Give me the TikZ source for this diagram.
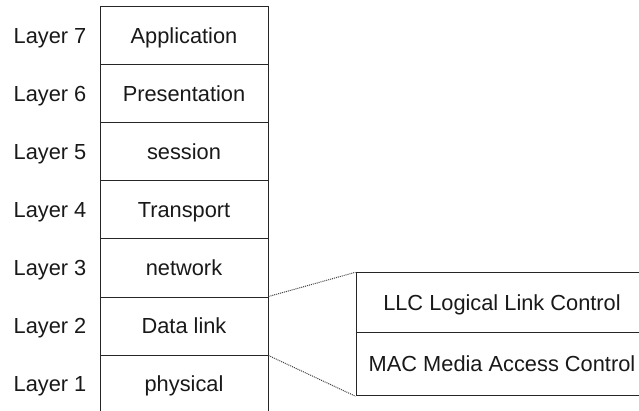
\documentclass[tikz,border=0pt]{standalone}
\usepackage{fontspec}
\setmainfont{Liberation Sans}
\begin{document}
\begin{tikzpicture}[x=1pt,y=1pt,
  every node/.style={font=\fontsize{21.8}{26}\selectfont, text=black!90, text height=15.6pt, text depth=0pt},
  layerbox/.style={draw=black!85, line width=1pt, minimum width=168pt, minimum height=58pt, inner sep=0pt},
  subbox/.style={draw=black!85, line width=1pt, minimum width=292pt, minimum height=61.6pt, inner sep=0pt},
  conn/.style={densely dotted, line width=1pt, draw=black!75}]
\useasboundingbox (0,0) rectangle (639,-411);
\clip (0,0) rectangle (639,-411);
\fill[white] (0,0) rectangle (639,-411);
\node[layerbox] (l7) at (184,-36) {Application};
\node[layerbox] (l6) at (184,-94) {Presentation};
\node[layerbox] (l5) at (184,-152) {session};
\node[layerbox] (l4) at (184,-210) {Transport};
\node[layerbox] (l3) at (184,-268) {network};
\node[layerbox] (l2) at (184,-326) {Data link};
\node[layerbox] (l1) at (184,-384) {physical};
\node (t7) at (50,-36) {Layer 7};
\node (t6) at (50,-94) {Layer 6};
\node (t5) at (50,-152) {Layer 5};
\node (t4) at (50,-210) {Layer 4};
\node (t3) at (50,-268) {Layer 3};
\node (t2) at (50,-326) {Layer 2};
\node (t1) at (50,-384) {Layer 1};
\node[subbox, minimum height=59.5pt] (llc) at (502,-302.5) {LLC Logical Link Control};
\node[subbox, minimum height=63.5pt] (mac) at (502,-364) {MAC Media Access Control};
\draw[conn] (l2.north east) -- (llc.north west);
\draw[conn] (l2.south east) -- (mac.south west);
\end{tikzpicture}
\end{document}
